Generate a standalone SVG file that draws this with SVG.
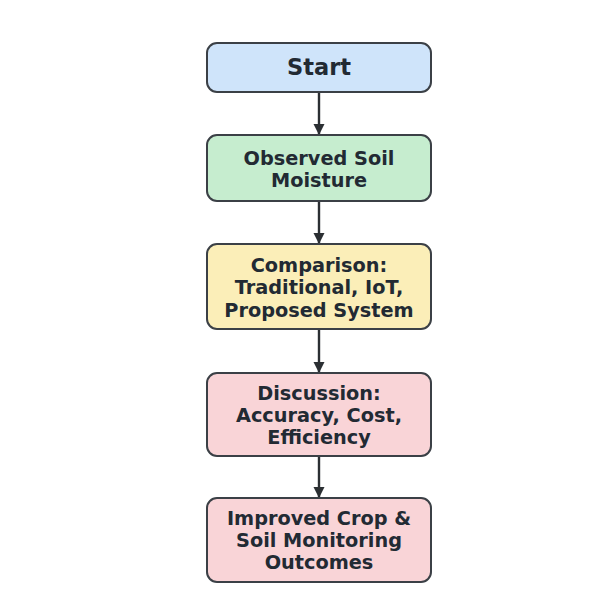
<svg xmlns="http://www.w3.org/2000/svg" width="614" height="602" viewBox="0 0 614 602">
  <defs>
    <marker id="arrow" viewBox="0 0 10 10" refX="9" refY="5" markerWidth="5" markerHeight="4.6" markerUnits="strokeWidth" orient="auto">
      <path d="M0,0 L10,5 L0,10 z" fill="#2b2f33"/>
    </marker>
  </defs>
  <style>
    .box { stroke: #3b4046; stroke-width: 2; }
    .label { font-family: "DejaVu Sans", "Liberation Sans", sans-serif; font-weight: bold; font-size: 19.3px; fill: #222a33; text-anchor: middle; }
    .edge { stroke: #2b2f33; stroke-width: 2.4; fill: none; marker-end: url(#arrow); }
  </style>
  <rect width="614" height="602" fill="#ffffff"/>

  <g id="connectors">
    <line class="edge" x1="319" y1="93" x2="319" y2="134"/>
    <line class="edge" x1="319" y1="202" x2="319" y2="243"/>
    <line class="edge" x1="319" y1="330" x2="319" y2="372"/>
    <line class="edge" x1="319" y1="457" x2="319" y2="497"/>
  </g>

  <g id="start">
    <rect class="box" x="207" y="43" width="224" height="49" rx="10" fill="#cfe4fa"/>
    <text class="label" x="319" y="75" style="font-size:22.5px">Start</text>
  </g>

  <g id="observed">
    <rect class="box" x="207" y="135" width="224" height="66" rx="10" fill="#c6edcf"/>
    <text class="label" x="319" y="165">Observed Soil</text>
    <text class="label" x="319" y="187">Moisture</text>
  </g>

  <g id="comparison">
    <rect class="box" x="207" y="244" width="224" height="85" rx="10" fill="#fbeeb8"/>
    <text class="label" x="319" y="272">Comparison:</text>
    <text class="label" x="319" y="294">Traditional, IoT,</text>
    <text class="label" x="319" y="317">Proposed System</text>
  </g>

  <g id="discussion">
    <rect class="box" x="207" y="373" width="224" height="83" rx="10" fill="#f9d4d7"/>
    <text class="label" x="319" y="400">Discussion:</text>
    <text class="label" x="319" y="422">Accuracy, Cost,</text>
    <text class="label" x="319" y="444">Efficiency</text>
  </g>

  <g id="outcomes">
    <rect class="box" x="207" y="498" width="224" height="84" rx="10" fill="#f9d4d7"/>
    <text class="label" x="319" y="525">Improved Crop &amp;</text>
    <text class="label" x="319" y="547">Soil Monitoring</text>
    <text class="label" x="319" y="569">Outcomes</text>
  </g>
</svg>
